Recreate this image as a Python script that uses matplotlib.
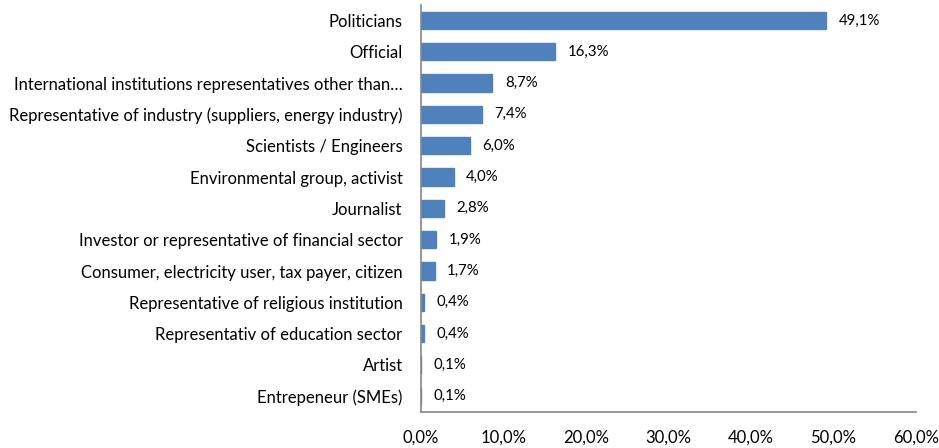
import matplotlib.pyplot as plt

categories = [
    "Politicians",
    "Official",
    "International institutions representatives other than\u2026",
    "Representative of industry (suppliers, energy industry)",
    "Scientists / Engineers",
    "Environmental group, activist",
    "Journalist",
    "Investor or representative of financial sector",
    "Consumer, electricity user, tax payer, citizen",
    "Representative of religious institution",
    "Representativ of education sector",
    "Artist",
    "Entrepeneur (SMEs)",
]
values = [49.1, 16.3, 8.7, 7.4, 6.0, 4.0, 2.8, 1.9, 1.7, 0.4, 0.4, 0.1, 0.1]
xticks = [0, 10, 20, 30, 40, 50, 60]

plt.rcParams['font.family'] = ['Lato', 'DejaVu Sans']

fig = plt.figure(figsize=(9.39, 4.48), dpi=100)
ax = fig.add_axes([0.448, 0.0804, 0.5275, 0.909])

pos = list(range(len(categories)))[::-1]
ax.barh(pos, values, height=0.55, color="#4F81BD", edgecolor="#4F81BD")

for p, v in zip(pos, values):
    ax.annotate(f"{v:.1f}%".replace(".", ","), (v, p), xytext=(9, 0),
                textcoords="offset points", va="center", ha="left", fontsize=10.8)

ax.set_xlim(0, 60)
ax.set_ylim(-0.5, len(categories) - 0.5)
ax.set_yticks(pos)
ax.set_yticklabels(categories, fontsize=12)
ax.set_xticks(xticks)
ax.set_xticklabels([f"{t:.1f}%".replace(".", ",") for t in xticks], fontsize=12)
ax.tick_params(axis="both", length=0)
ax.tick_params(axis="x", pad=13)
ax.tick_params(axis="y", pad=13)
for s in ["top", "right"]:
    ax.spines[s].set_visible(False)
for s in ["left", "bottom"]:
    ax.spines[s].set_color("#868686")
    ax.spines[s].set_linewidth(1.2)

fig.savefig("out.png")
